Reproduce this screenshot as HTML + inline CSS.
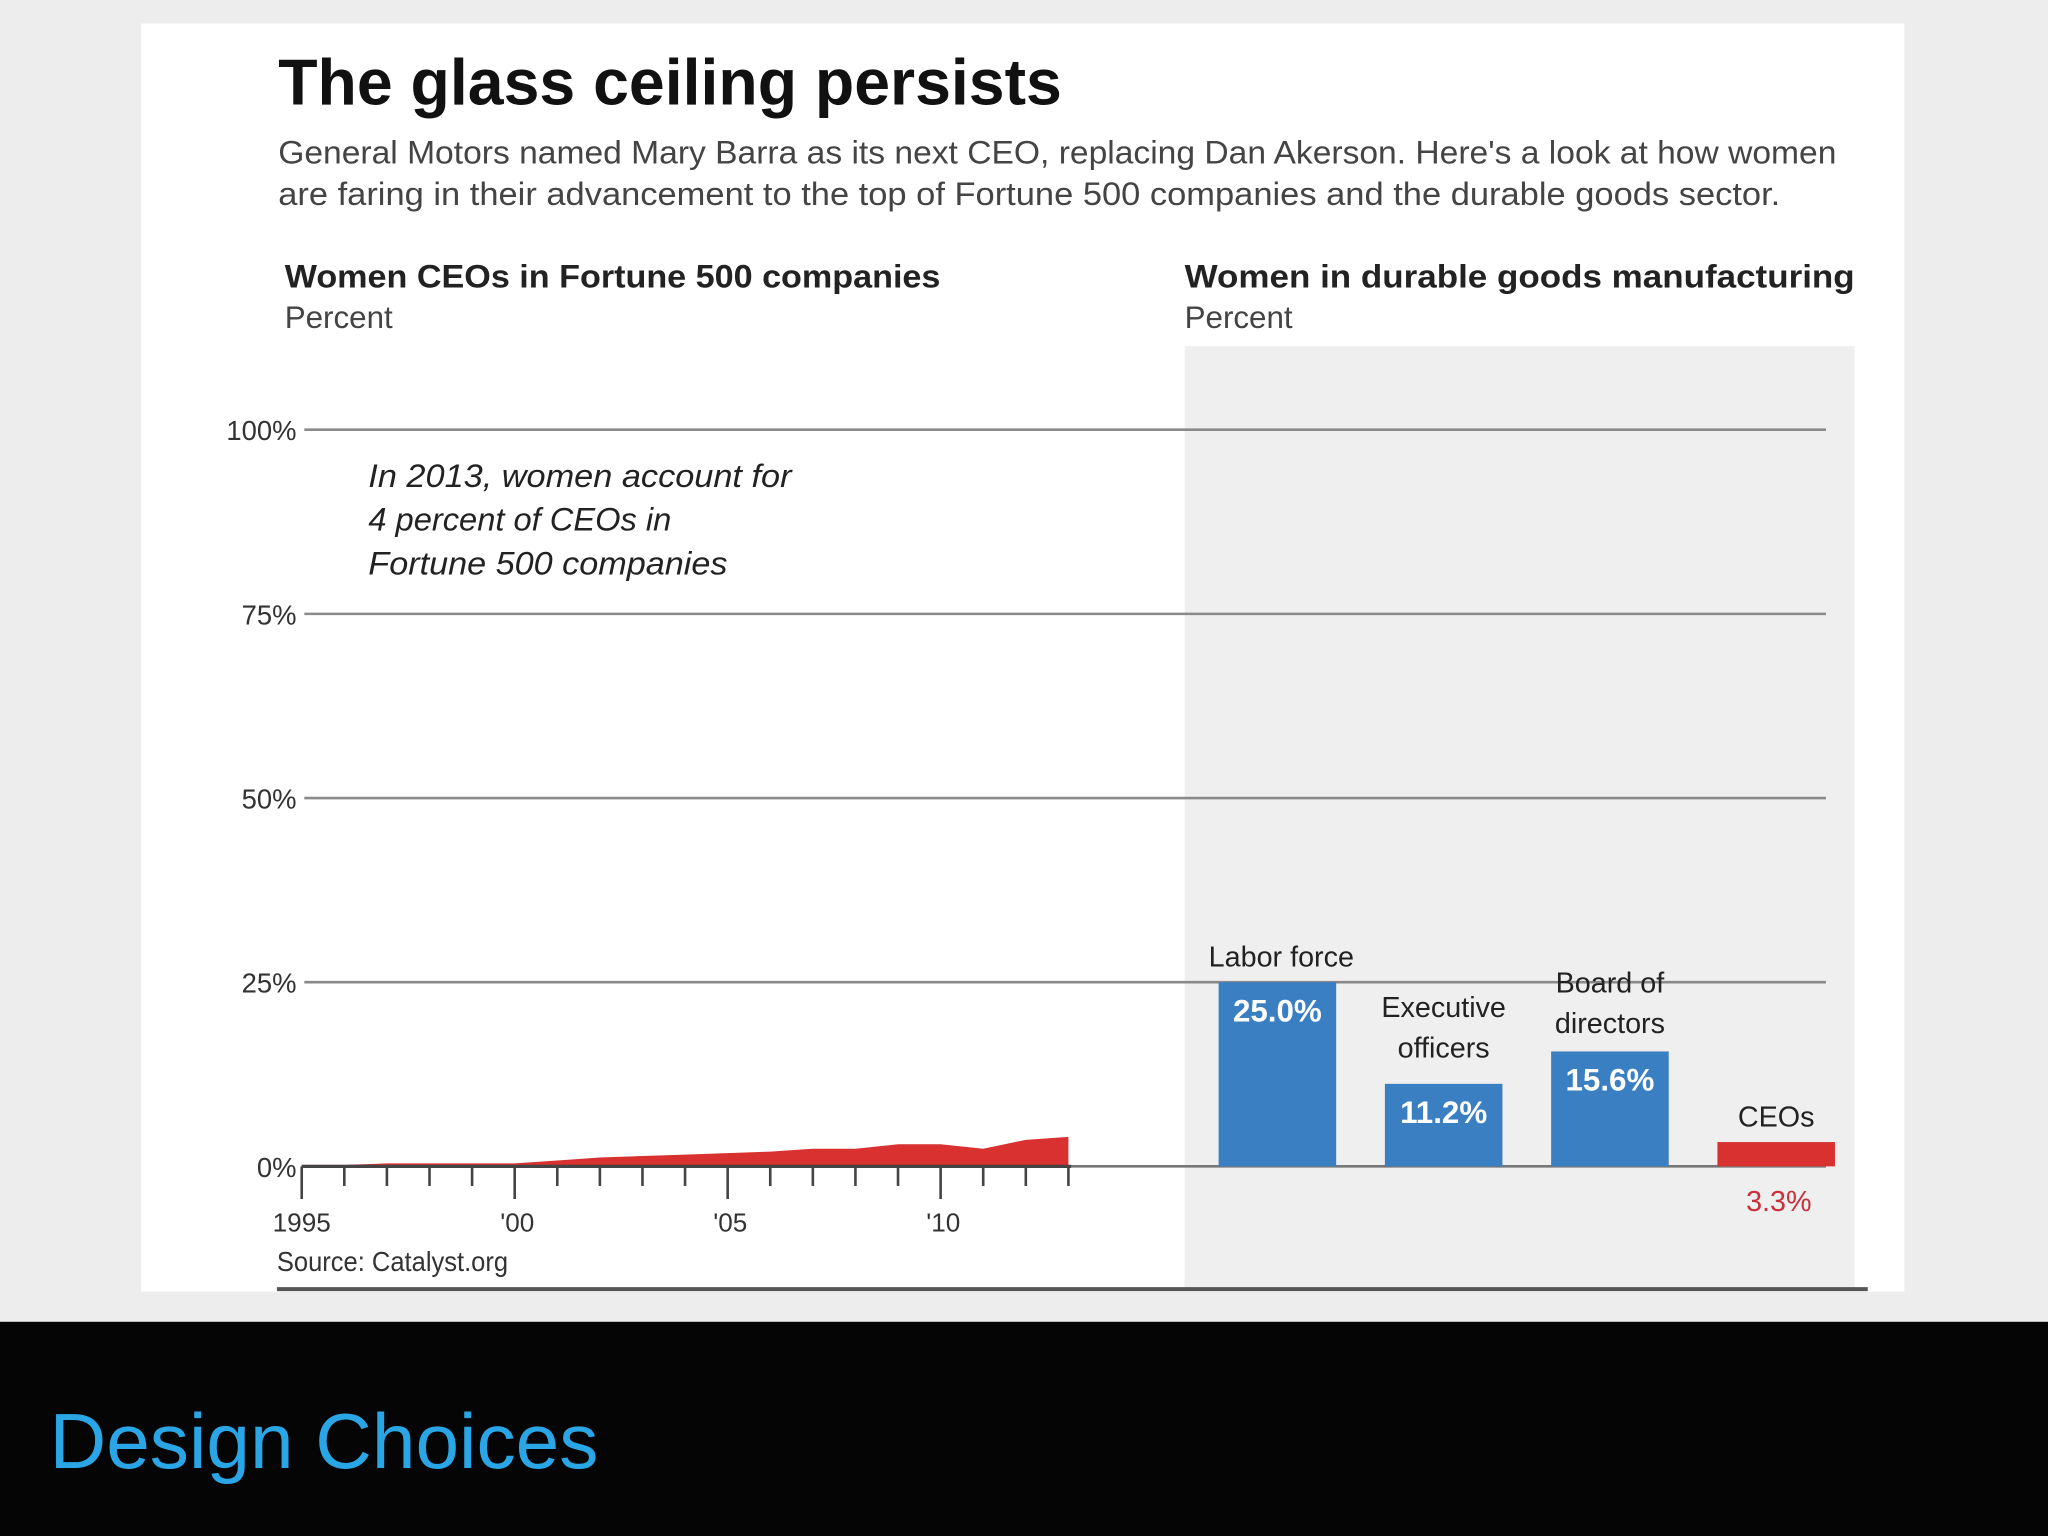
<!DOCTYPE html>
<html><head><meta charset="utf-8"><style>
html,body{margin:0;padding:0;background:#ededed;}
svg{display:block;}
text{font-family:"Liberation Sans",sans-serif;}
</style></head><body>
<svg id="chart" width="2048" height="1536" viewBox="0 0 1568 1176" xmlns="http://www.w3.org/2000/svg">
<rect x="0" y="0" width="1568" height="1176" fill="#ededed"/>
<rect x="108" y="18" width="1350" height="971" fill="#ffffff"/>
<rect x="907" y="265" width="513" height="722" fill="#efefef"/>
<rect x="0" y="1012" width="1568" height="164" fill="#050505"/>
<text x="38" y="1124" font-size="60" fill="#2aa6e6">Design Choices</text>
<text x="213" y="80" font-size="50" font-weight="bold" fill="#111" textLength="600" lengthAdjust="spacingAndGlyphs">The glass ceiling persists</text>
<text x="213" y="125" font-size="25" fill="#444" textLength="1193" lengthAdjust="spacingAndGlyphs">General Motors named Mary Barra as its next CEO, replacing Dan Akerson. Here's a look at how women</text>
<text x="213" y="157" font-size="25" fill="#444" textLength="1150" lengthAdjust="spacingAndGlyphs">are faring in their advancement to the top of Fortune 500 companies and the durable goods sector.</text>
<text x="218" y="220" font-size="25" font-weight="bold" fill="#222" textLength="502" lengthAdjust="spacingAndGlyphs">Women CEOs in Fortune 500 companies</text>
<text x="218" y="251" font-size="24" fill="#444">Percent</text>
<text x="907" y="220" font-size="25" font-weight="bold" fill="#222" textLength="513" lengthAdjust="spacingAndGlyphs">Women in durable goods manufacturing</text>
<text x="907" y="251" font-size="24" fill="#444">Percent</text>
<g font-style="italic" font-size="25" fill="#222">
<text x="282" y="373" textLength="324" lengthAdjust="spacingAndGlyphs">In 2013, women account for</text>
<text x="282" y="406" textLength="232" lengthAdjust="spacingAndGlyphs">4 percent of CEOs in</text>
<text x="282" y="440" textLength="275" lengthAdjust="spacingAndGlyphs">Fortune 500 companies</text>
</g>
<g id="grid"></g><g id="area"></g><g id="bars"></g>
<text x="212" y="973" font-size="21" fill="#333" textLength="177" lengthAdjust="spacingAndGlyphs">Source: Catalyst.org</text>
<line x1="212" y1="987" x2="1430" y2="987" stroke="#555" stroke-width="3"/>
</svg>
<script>
const yTicks=[0,25,50,75,100];
const yTickLabels=["0%","25%","50%","75%","100%"];
const years=[1995,1996,1997,1998,1999,2000,2001,2002,2003,2004,2005,2006,2007,2008,2009,2010,2011,2012,2013];
const ceoShare=[0.2,0.2,0.4,0.4,0.4,0.4,0.8,1.2,1.4,1.6,1.8,2.0,2.4,2.4,3.0,3.0,2.4,3.6,4.0];
const xTickYears=[1995,2000,2005,2010];
const xTickLabels=["1995","'00","'05","'10"];
const barCats=["Labor force","Executive officers","Board of directors","CEOs"];
const barVals=[25.0,11.2,15.6,3.3];
const barLabels=["25.0%","11.2%","15.6%","3.3%"];

const NS="http://www.w3.org/2000/svg";
const y=v=>893-v*(893-329)/100;
const x=yr=>231+(yr-1995)*(818-231)/18;
function mk(tag,attrs,parent,txt){const e=document.createElementNS(NS,tag);for(const k in attrs)e.setAttribute(k,attrs[k]);if(txt!==undefined)e.textContent=txt;parent.appendChild(e);return e;}
const grid=document.getElementById('grid');
yTicks.forEach((t,i)=>{
  const l=mk('line',{x1:233,x2:1398,y1:y(t),y2:y(t),stroke:t===0?'#777':'#8a8a8a','stroke-width':2},grid);
  
  
  const tx=mk('text',{x:227,y:y(t)+8,'font-size':21,fill:'#333','text-anchor':'end'},grid,yTickLabels[i]);
  
  
});
const area=document.getElementById('area');
let d='M'+x(years[0])+','+y(0);
years.forEach((yr,i)=>{d+=' L'+x(yr)+','+y(ceoShare[i]);});
d+=' L'+x(years[years.length-1])+','+y(0)+' Z';
const p=mk('path',{d:d,fill:'#d8312f'},area);


const ax=mk('line',{x1:231,x2:820,y1:893,y2:893,stroke:'#444','stroke-width':2.5},area);


years.forEach(yr=>{
  const major=xTickYears.includes(yr);
  const t=mk('line',{x1:x(yr),x2:x(yr),y1:893,y2:major?918:908,stroke:'#444','stroke-width':2},area);
  
  
});
xTickYears.forEach((yr,i)=>{
  const t=mk('text',{x:x(yr)+(i===0?0:2),y:943,'font-size':20,fill:'#333','text-anchor':'middle'},area,xTickLabels[i]);
  
  
});
const bars=document.getElementById('bars');
const bx=i=>933+i*127.3;
const bw=90;
barVals.forEach((v,i)=>{
  const isCeo=i===3;
  const r=mk('rect',{x:bx(i),y:y(v),width:bw,height:893-y(v),fill:isCeo?'#d8312f':'#3a7fc1'},bars);
  
  
  const cx=bx(i)+bw/2;
  let vt;
  if(isCeo){vt=mk('text',{x:cx+2,y:927,'font-size':22,fill:'#c8303a','text-anchor':'middle'},bars,barLabels[i]);}
  else{vt=mk('text',{x:cx,y:y(v)+30,'font-size':24,'font-weight':'bold',fill:'#fff','text-anchor':'middle'},bars,barLabels[i]);}
  
  
  const words=barCats[i].split(' ');
  let lines=i===0?[barCats[i]]:(i===3?[barCats[i]]:(i===1?["Executive","officers"]:["Board of","directors"]));
  const gap=[12,20,14,12][i];
  const baseTop=y(v)-gap-(lines.length-1)*31;
  lines.forEach((ln,j)=>{
    const t=mk('text',{x:cx+(i===0?3:0),y:baseTop+j*31,'font-size':22,fill:'#222','text-anchor':'middle'},bars,ln);
    
    
  });
});
</script>
</body></html>
